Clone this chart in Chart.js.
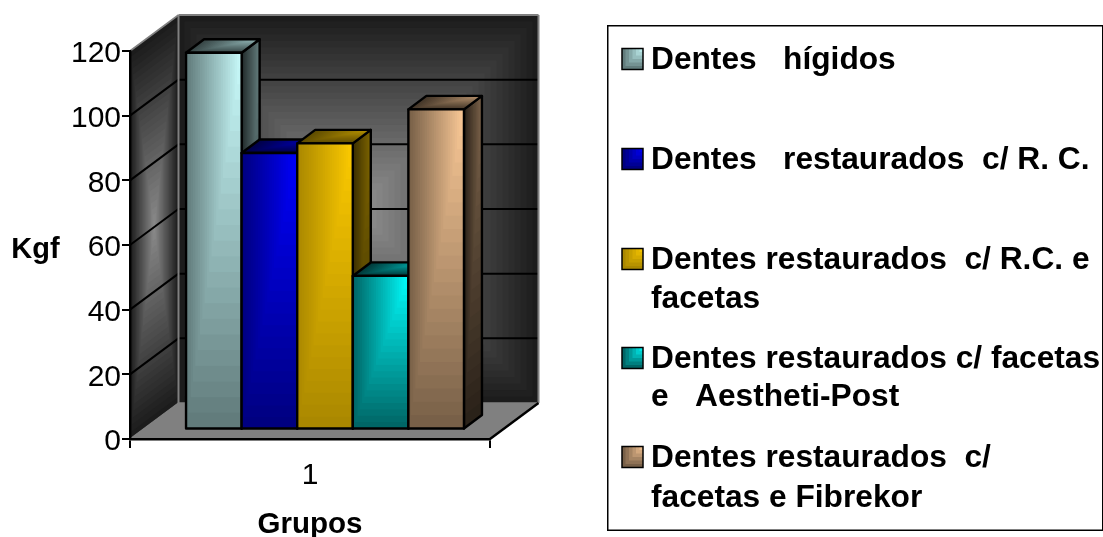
<!DOCTYPE html>
<html><head><meta charset="utf-8">
<style>html,body{margin:0;padding:0;background:#fff}#w{width:1103px;height:537px;position:relative}</style>
<script src="https://cdn.jsdelivr.net/npm/chart.js@4"></script>
</head><body><div id="w"><canvas id="c" width="1103" height="537"></canvas></div>
<script>
const categories = ['1'];
const seriesHigidos = [116.5];
const seriesRC = [85.5];
const seriesRCFacetas = [88.5];
const seriesAesthetiPost = [47.5];
const seriesFibrekor = [99];
const yTicks = [0, 20, 40, 60, 80, 100, 120];
const seriesNames = ['Dentes   hígidos', 'Dentes   restaurados  c/ R. C.', 'Dentes restaurados  c/ R.C. e facetas', 'Dentes restaurados c/ facetas e   Aestheti-Post', 'Dentes restaurados  c/ facetas e Fibrekor'];
const legendLines = [['Dentes   hígidos'], ['Dentes   restaurados  c/ R. C.'], ['Dentes restaurados  c/ R.C. e', 'facetas'], ['Dentes restaurados c/ facetas', 'e   Aestheti-Post'], ['Dentes restaurados  c/', 'facetas e Fibrekor']];
const allSeries = [seriesHigidos, seriesRC, seriesRCFacetas, seriesAesthetiPost, seriesFibrekor];

const palette = [
  {b:[204,255,255], d:[98,124,124]},
  {b:[0,0,255], d:[0,0,128]},
  {b:[255,204,0], d:[170,136,0]},
  {b:[0,255,255], d:[0,102,102]},
  {b:[255,204,153], d:[120,96,72]}
];
const FONT = '"Liberation Sans", Arial, sans-serif';
const WALL_DX = 48.5, WALL_DY = 36, BAR_OX = 15, BAR_OY = 9.5, BAR_DX = 18, BAR_DY = 13.5;
const BAR_LINE = 2.4;

const mix = (a, b, t) => `rgb(${a.map((v, i) => Math.round(v + (b[i] - v) * t)).join(',')})`;
const scaleC = (c, f) => c.map(v => v * f);

function cornerUnit(ctx, from, to, N = 24) {
  for (let k = 0; k < N; k++) {
    const s = 1 - k / N;
    ctx.fillStyle = mix(from, to, s);
    ctx.fillRect(1 - s, 0, s, s);
  }
}
function centreUnit(ctx, edge, centre, N = 30) {
  for (let k = 0; k < N; k++) {
    const s = 1 - k / N;
    ctx.fillStyle = mix(centre, edge, s);
    ctx.fillRect(.5 - s / 2, .5 - s / 2, s, s);
  }
}
function poly(ctx, pts) {
  ctx.beginPath();
  pts.forEach((p, i) => i ? ctx.lineTo(p[0], p[1]) : ctx.moveTo(p[0], p[1]));
  ctx.closePath();
}
function seg(ctx, a, b, col, w) {
  ctx.strokeStyle = col; ctx.lineWidth = w;
  ctx.beginPath(); ctx.moveTo(a[0], a[1]); ctx.lineTo(b[0], b[1]); ctx.stroke();
}

const walls = {
  id: 'walls',
  beforeDraw(chart) {
    const ctx = chart.ctx, a = chart.chartArea, y = chart.scales.y;
    const L = a.left, R = a.right, T = y.getPixelForValue(120), B = y.getPixelForValue(0);
    const bl = L + WALL_DX, br = R + WALL_DX, bt = T - WALL_DY, bb = B - WALL_DY;
    ctx.save(); ctx.transform(br - bl, 0, 0, bb - bt, bl, bt);
    centreUnit(ctx, [28,28,28], [148,148,148]); ctx.restore();
    ctx.save(); ctx.transform(WALL_DX, -WALL_DY, 0, B - T, L, T);
    centreUnit(ctx, [28,28,28], [140,140,140]); ctx.restore();
    poly(ctx, [[L,B],[R,B],[br,bb],[bl,bb]]);
    ctx.fillStyle = '#808080'; ctx.fill();
    yTicks.forEach(v => {
      if (v === 0 || v === 120) return;
      const p = y.getPixelForValue(v);
      seg(ctx, [L,p], [bl,p - WALL_DY], '#000', 2);
      seg(ctx, [bl,p - WALL_DY], [br,p - WALL_DY], '#000', 2);
    });
    seg(ctx, [L,T], [bl,bt], '#808080', 1.6);
    seg(ctx, [bl,bt], [br,bt], '#808080', 2);
    seg(ctx, [bl,bt], [bl,bb], '#808080', 2);
    seg(ctx, [br,bt], [br,bb], '#808080', 2);
    seg(ctx, [L,B], [bl,bb], '#808080', 1.5);
    seg(ctx, [bl,bb], [br,bb], '#808080', 1.5);
    seg(ctx, [R,B], [br,bb], '#000', 2.4);
  }
};

const bars3d = {
  id: 'bars3d',
  beforeDatasetsDraw(chart) {
    const ctx = chart.ctx;
    chart.getSortedVisibleDatasetMetas().sort((p, q) => p.index - q.index).forEach(meta => {
      const pal = palette[meta.index];
      const el = meta.data[0];
      const l = el.x - el.width / 2, r = el.x + el.width / 2, t = el.y, b = el.base, w = el.width, h = b - t;
      ctx.save();
      ctx.translate(BAR_OX, -BAR_OY);
      ctx.save(); ctx.transform(BAR_DX, -BAR_DY, 0, h, r, t);
      cornerUnit(ctx, scaleC(pal.b, .5), scaleC(pal.d, .35)); ctx.restore();
      poly(ctx, [[r,t],[r + BAR_DX,t - BAR_DY],[r + BAR_DX,b - BAR_DY],[r,b]]);
      ctx.strokeStyle = '#000'; ctx.lineWidth = BAR_LINE; ctx.lineJoin = 'round'; ctx.stroke();
      ctx.save(); ctx.transform(w, 0, BAR_DX, -BAR_DY, l, t);
      ctx.transform(1, 0, 0, -1, 0, 1);
      cornerUnit(ctx, scaleC(pal.b, .72), scaleC(pal.d, .55)); ctx.restore();
      poly(ctx, [[l,t],[r,t],[r + BAR_DX,t - BAR_DY],[l + BAR_DX,t - BAR_DY]]);
      ctx.stroke();
      el.draw(ctx);
      ctx.save(); ctx.transform(w, 0, 0, h, l, t);
      cornerUnit(ctx, pal.b, pal.d); ctx.restore();
      ctx.strokeStyle = '#000'; ctx.lineWidth = BAR_LINE;
      ctx.strokeRect(l, t, w, h);
      ctx.restore();
    });
    return false;
  }
};

const legendBox = {
  id: 'legendBox',
  afterDraw(chart) {
    const ctx = chart.ctx;
    ctx.save();
    ctx.strokeStyle = '#000'; ctx.lineWidth = 1.5;
    ctx.strokeRect(607.75, 25.75, 495, 504.5);
    ctx.textBaseline = 'middle'; ctx.textAlign = 'left'; ctx.fillStyle = '#000';
    ctx.font = 'bold 31.7px ' + FONT;
    const rows = [[59], [159], [259, 298], [358, 396], [457, 497]];
    legendLines.forEach((lines, i) => {
      const sy = rows[i][0] - 10.5;
      ctx.save(); ctx.transform(21, 0, 0, 21, 622, sy);
      cornerUnit(ctx, palette[i].b, palette[i].d, 6); ctx.restore();
      ctx.lineWidth = 1.5; ctx.strokeStyle = '#000'; ctx.strokeRect(622, sy, 21, 21);
      ctx.fillStyle = '#000';
      lines.forEach((s, j) => ctx.fillText(s, 651, rows[i][j] + 1));
    });
    ctx.textAlign = 'center';
    ctx.font = 'bold 29px ' + FONT;
    ctx.fillText('Kgf', 35.5, 250);
    ctx.restore();
  }
};

new Chart(document.getElementById('c'), {
  type: 'bar',
  data: {
    labels: categories,
    datasets: allSeries.map((values, i) => ({
      label: seriesNames[i],
      data: values,
      backgroundColor: mix(palette[i].b, palette[i].b, 0),
      borderColor: '#000',
      borderWidth: 0,
      categoryPercentage: 0.772,
      barPercentage: 1
    }))
  },
  options: {
    responsive: false,
    animation: false,
    layout: { padding: { left: 0, top: 51, right: 613, bottom: 0 } },
    plugins: { legend: { display: false }, tooltip: { enabled: false }, title: { display: false } },
    scales: {
      x: {
        afterFit(s) { s.height = 98; },
        border: { display: true, color: '#000', width: 2.4 },
        grid: { drawOnChartArea: false, drawTicks: true, tickLength: 9, color: '#000', lineWidth: 2 },
        ticks: { color: '#000', font: { family: FONT, size: 30 }, padding: 10 },
        title: { display: true, text: 'Grupos', color: '#000', font: { family: FONT, size: 29.5, weight: 'bold' }, padding: { top: 0, bottom: -6 } }
      },
      y: {
        min: 0, max: 120,
        afterFit(s) { s.width = 130; },
        afterBuildTicks(s) { s.ticks = yTicks.map(value => ({ value })); },
        border: { display: true, color: '#000', width: 2.4 },
        grid: { drawOnChartArea: false, drawTicks: true, tickLength: 8, color: '#000', lineWidth: 2 },
        ticks: { color: '#000', font: { family: FONT, size: 30 }, padding: 1, labelOffset: 3 }
      }
    }
  },
  plugins: [walls, bars3d, legendBox]
});
</script></body></html>
